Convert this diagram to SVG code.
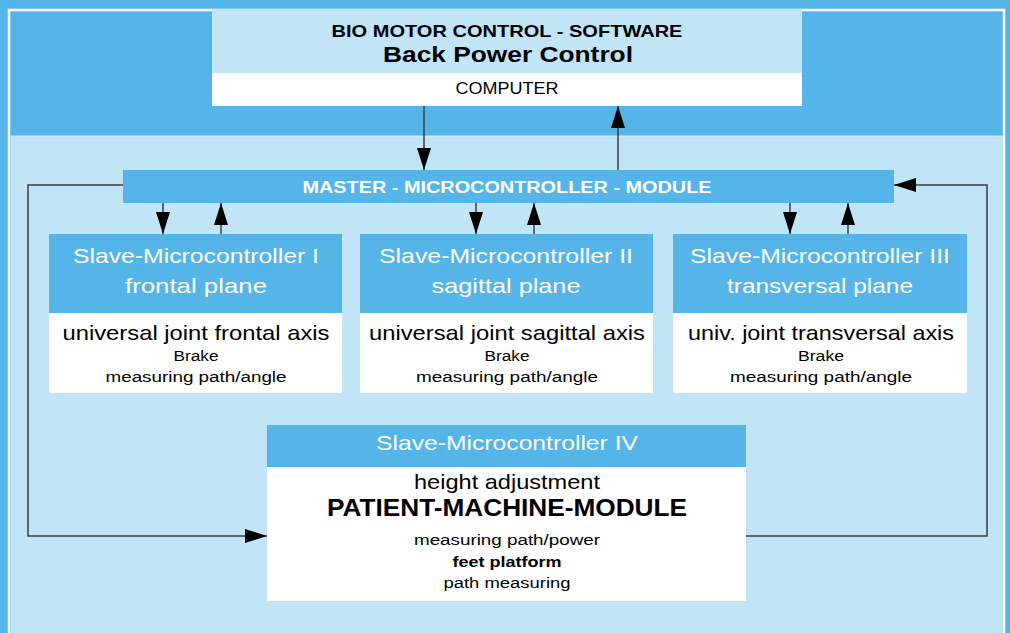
<svg xmlns="http://www.w3.org/2000/svg" width="1010" height="633" viewBox="0 0 1010 633">
<defs>
<marker id="ah" viewBox="0 0 22 14" refX="22" refY="7" markerWidth="22" markerHeight="14" markerUnits="userSpaceOnUse" orient="auto">
<path d="M0,0 L22,7 L0,14 Z" fill="#000"/>
</marker>
<style>
.dark{fill:#55b5e8}
.light{fill:#c2e4f7}
.white{fill:#fff}
.conn{stroke:#3a3f45;stroke-width:1.5;fill:none}
.t{font-family:"Liberation Sans","DejaVu Sans",sans-serif;text-anchor:middle}
.hw{fill:#fff;font-size:21px}
.big{fill:#000;font-size:21px}
.sm{fill:#000;font-size:15.5px}
</style>
</defs>
<rect x="0" y="0" width="1010" height="633" class="dark"/>
<rect x="9" y="10" width="995" height="640" fill="none" stroke="#fff" stroke-width="2.5"/>
<rect x="10.5" y="136" width="992.5" height="497" class="light"/>
<line x1="10.5" y1="136" x2="1003" y2="136" stroke="#d8eefa" stroke-width="1"/>

<g id="computer">
<rect x="212" y="9" width="590" height="64" class="light"/>
<rect x="212" y="73" width="590" height="33" class="white"/>
<text x="507" y="37" class="t" style="font-size:16.5px;font-weight:bold" textLength="351" lengthAdjust="spacingAndGlyphs">BIO MOTOR CONTROL - SOFTWARE</text>
<text x="508" y="62" class="t" style="font-size:22.5px;font-weight:bold" textLength="250" lengthAdjust="spacingAndGlyphs">Back Power Control</text>
<text x="507" y="94" class="t" style="font-size:16px" textLength="103" lengthAdjust="spacingAndGlyphs">COMPUTER</text>
</g>

<g id="master">
<rect x="123" y="170" width="771" height="33" class="dark"/>
<text x="507" y="193" class="t" style="fill:#fff;font-size:16px;font-weight:bold" textLength="409" lengthAdjust="spacingAndGlyphs">MASTER - MICROCONTROLLER - MODULE</text>
</g>

<g id="slave1">
<rect x="49" y="234" width="293" height="79" class="dark"/>
<rect x="49" y="313" width="293" height="80" class="white"/>
<text x="196" y="263" class="t hw" textLength="246" lengthAdjust="spacingAndGlyphs">Slave-Microcontroller I</text>
<text x="196" y="293" class="t hw" textLength="142" lengthAdjust="spacingAndGlyphs">frontal plane</text>
<text x="196" y="340" class="t big" textLength="267" lengthAdjust="spacingAndGlyphs">universal joint frontal axis</text>
<text x="196" y="361" class="t sm" textLength="45" lengthAdjust="spacingAndGlyphs">Brake</text>
<text x="196" y="382" class="t sm" textLength="181" lengthAdjust="spacingAndGlyphs">measuring path/angle</text>
</g>

<g id="slave2">
<rect x="360" y="234" width="293" height="79" class="dark"/>
<rect x="360" y="313" width="293" height="80" class="white"/>
<text x="506" y="263" class="t hw" textLength="254" lengthAdjust="spacingAndGlyphs">Slave-Microcontroller II</text>
<text x="506" y="293" class="t hw" textLength="149" lengthAdjust="spacingAndGlyphs">sagittal plane</text>
<text x="507" y="340" class="t big" textLength="276" lengthAdjust="spacingAndGlyphs">universal joint sagittal axis</text>
<text x="507" y="361" class="t sm" textLength="45" lengthAdjust="spacingAndGlyphs">Brake</text>
<text x="507" y="382" class="t sm" textLength="182" lengthAdjust="spacingAndGlyphs">measuring path/angle</text>
</g>

<g id="slave3">
<rect x="673" y="234" width="294" height="79" class="dark"/>
<rect x="673" y="313" width="294" height="80" class="white"/>
<text x="820" y="263" class="t hw" textLength="260" lengthAdjust="spacingAndGlyphs">Slave-Microcontroller III</text>
<text x="820" y="293" class="t hw" textLength="186" lengthAdjust="spacingAndGlyphs">transversal plane</text>
<text x="821" y="340" class="t big" textLength="266" lengthAdjust="spacingAndGlyphs">univ. joint transversal axis</text>
<text x="821" y="361" class="t sm" textLength="46" lengthAdjust="spacingAndGlyphs">Brake</text>
<text x="821" y="382" class="t sm" textLength="182" lengthAdjust="spacingAndGlyphs">measuring path/angle</text>
</g>

<g id="slave4">
<rect x="267" y="425" width="479" height="42" class="dark"/>
<rect x="267" y="467" width="479" height="134" class="white"/>
<text x="507" y="450" class="t hw" textLength="262" lengthAdjust="spacingAndGlyphs">Slave-Microcontroller IV</text>
<text x="507" y="489" class="t big" textLength="186" lengthAdjust="spacingAndGlyphs">height adjustment</text>
<text x="507" y="516" class="t" style="font-size:23px;font-weight:bold" textLength="360" lengthAdjust="spacingAndGlyphs">PATIENT-MACHINE-MODULE</text>
<text x="507" y="545" class="t sm" textLength="186" lengthAdjust="spacingAndGlyphs">measuring path/power</text>
<text x="507" y="567" class="t sm" style="font-weight:bold" textLength="109" lengthAdjust="spacingAndGlyphs">feet platform</text>
<text x="507" y="588" class="t sm" textLength="127" lengthAdjust="spacingAndGlyphs">path measuring</text>
</g>

<g id="connectors">
<line x1="424" y1="106" x2="424" y2="170" class="conn" marker-end="url(#ah)"/>
<line x1="618" y1="170" x2="618" y2="106" class="conn" marker-end="url(#ah)"/>
<line x1="163" y1="203" x2="163" y2="234" class="conn" marker-end="url(#ah)"/>
<line x1="221" y1="234" x2="221" y2="203" class="conn" marker-end="url(#ah)"/>
<line x1="476" y1="203" x2="476" y2="234" class="conn" marker-end="url(#ah)"/>
<line x1="534" y1="234" x2="534" y2="203" class="conn" marker-end="url(#ah)"/>
<line x1="790" y1="203" x2="790" y2="234" class="conn" marker-end="url(#ah)"/>
<line x1="848" y1="234" x2="848" y2="203" class="conn" marker-end="url(#ah)"/>
<polyline points="123,185 28,185 28,536 267,536" class="conn" marker-end="url(#ah)"/>
<polyline points="746,536 987,536 987,185 894,185" class="conn" marker-end="url(#ah)"/>
</g>
</svg>
